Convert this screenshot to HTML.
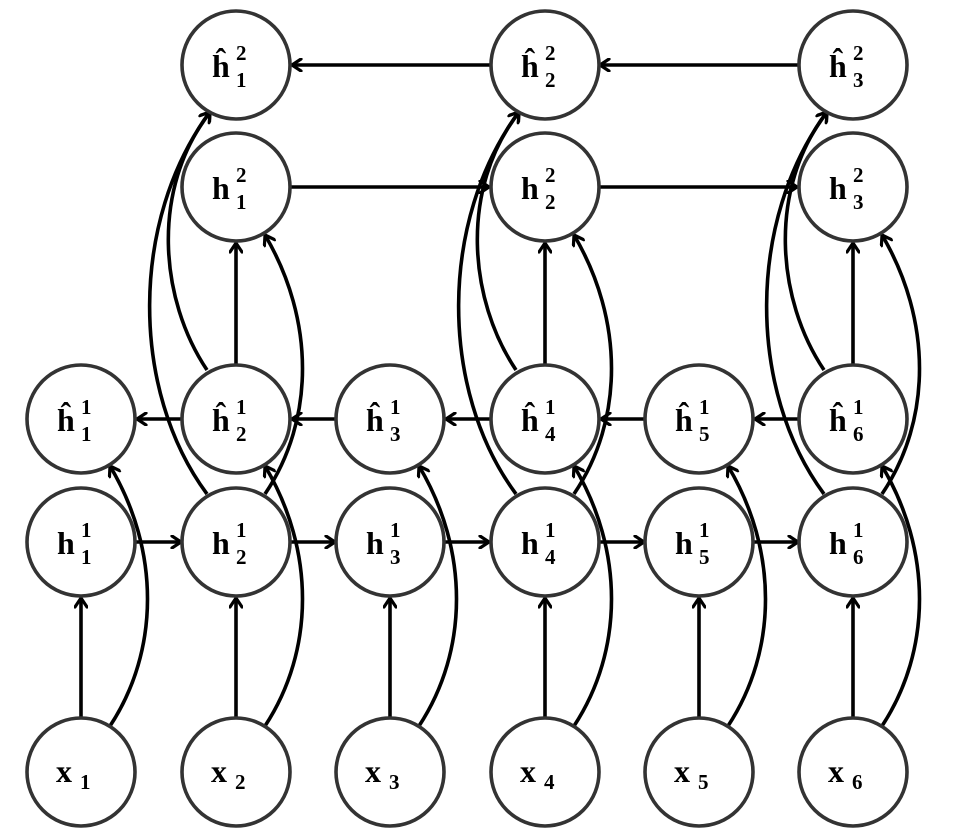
<!DOCTYPE html>
<html><head><meta charset="utf-8"><style>
html,body{margin:0;padding:0;background:#fff}
svg{display:block}
text{font-family:"Liberation Serif",serif;font-weight:bold;fill:#000}
</style></head><body>
<svg width="960" height="840" viewBox="0 0 960 840" xmlns="http://www.w3.org/2000/svg">
<defs>
<marker id="a" markerWidth="14" markerHeight="14" refX="12" refY="7" orient="auto" markerUnits="userSpaceOnUse">
<polyline points="3,1 12,7 3,13" fill="none" stroke="#000" stroke-width="3.2" stroke-linecap="round" stroke-linejoin="round"/>
</marker>
</defs>
<g fill="none" stroke="#000" stroke-width="3.6" marker-end="url(#a)">
<!-- top row leftward -->
<line x1="490" y1="65" x2="292" y2="65"/>
<line x1="798" y1="65" x2="600" y2="65"/>
<!-- h2 row rightward -->
<line x1="291" y1="187" x2="489" y2="187"/>
<line x1="600" y1="187" x2="797" y2="187"/>
<!-- hat h1 row leftward -->
<line x1="182" y1="419" x2="137" y2="419"/>
<line x1="336" y1="419" x2="292" y2="419"/>
<line x1="490" y1="419" x2="446" y2="419"/>
<line x1="645" y1="419" x2="601" y2="419"/>
<line x1="799" y1="419" x2="755" y2="419"/>
<!-- h1 row rightward -->
<line x1="136" y1="542" x2="181" y2="542"/>
<line x1="291" y1="542" x2="335" y2="542"/>
<line x1="445" y1="542" x2="489" y2="542"/>
<line x1="600" y1="542" x2="644" y2="542"/>
<line x1="754" y1="542" x2="798" y2="542"/>
<!-- x up to h1 -->
<line x1="81" y1="718" x2="81" y2="598"/>
<line x1="236" y1="718" x2="236" y2="598"/>
<line x1="390" y1="718" x2="390" y2="598"/>
<line x1="545" y1="718" x2="545" y2="598"/>
<line x1="699" y1="718" x2="699" y2="598"/>
<line x1="853" y1="718" x2="853" y2="598"/>
<!-- hat h1 up to h2 -->
<line x1="236" y1="364" x2="236" y2="243"/>
<line x1="545" y1="364" x2="545" y2="243"/>
<line x1="853" y1="364" x2="853" y2="243"/>
<!-- x top-right to hat h1 -->
<path d="M110 726 C160 650 160 550 110 466"/>
<path d="M265 726 C315 650 315 550 265 466"/>
<path d="M419 726 C469 650 469 550 419 466"/>
<path d="M574 726 C624 650 624 550 574 466"/>
<path d="M728 726 C778 650 778 550 728 466"/>
<path d="M882 726 C932 650 932 550 882 466"/>
<!-- column curves -->
<path d="M207 370 C160 300 150 190 210 112"/>
<path d="M207 494 C130 390 130 220 210 112"/>
<path d="M265 494 C315 420 315 320 265 235"/>
<path d="M516 370 C469 300 459 190 519 112"/>
<path d="M516 494 C439 390 439 220 519 112"/>
<path d="M574 494 C624 420 624 320 574 235"/>
<path d="M824 370 C777 300 767 190 827 112"/>
<path d="M824 494 C747 390 747 220 827 112"/>
<path d="M882 494 C932 420 932 320 882 235"/>
</g>
<g fill="#fff" stroke="#333" stroke-width="3.6">
<circle cx="236" cy="65" r="54"/><circle cx="545" cy="65" r="54"/><circle cx="853" cy="65" r="54"/>
<circle cx="236" cy="187" r="54"/><circle cx="545" cy="187" r="54"/><circle cx="853" cy="187" r="54"/>
<circle cx="81" cy="419" r="54"/><circle cx="236" cy="419" r="54"/><circle cx="390" cy="419" r="54"/><circle cx="545" cy="419" r="54"/><circle cx="699" cy="419" r="54"/><circle cx="853" cy="419" r="54"/>
<circle cx="81" cy="542" r="54"/><circle cx="236" cy="542" r="54"/><circle cx="390" cy="542" r="54"/><circle cx="545" cy="542" r="54"/><circle cx="699" cy="542" r="54"/><circle cx="853" cy="542" r="54"/>
<circle cx="81" cy="772" r="54"/><circle cx="236" cy="772" r="54"/><circle cx="390" cy="772" r="54"/><circle cx="545" cy="772" r="54"/><circle cx="699" cy="772" r="54"/><circle cx="853" cy="772" r="54"/>
</g>
<g font-size="32">
<!-- top row hats -->
<g id="lbls"></g>
<text x="212" y="77">ĥ</text><text x="236" y="60" font-size="21" font-weight="normal">2</text><text x="236" y="87" font-size="21" font-weight="normal">1</text>
<text x="521" y="77">ĥ</text><text x="545" y="60" font-size="21" font-weight="normal">2</text><text x="545" y="87" font-size="21" font-weight="normal">2</text>
<text x="829" y="77">ĥ</text><text x="853" y="60" font-size="21" font-weight="normal">2</text><text x="853" y="87" font-size="21" font-weight="normal">3</text>
<text x="212" y="199">h</text><text x="236" y="182" font-size="21" font-weight="normal">2</text><text x="236" y="209" font-size="21" font-weight="normal">1</text>
<text x="521" y="199">h</text><text x="545" y="182" font-size="21" font-weight="normal">2</text><text x="545" y="209" font-size="21" font-weight="normal">2</text>
<text x="829" y="199">h</text><text x="853" y="182" font-size="21" font-weight="normal">2</text><text x="853" y="209" font-size="21" font-weight="normal">3</text>
<text x="57" y="431">ĥ</text><text x="81" y="414" font-size="21" font-weight="normal">1</text><text x="81" y="441" font-size="21" font-weight="normal">1</text>
<text x="212" y="431">ĥ</text><text x="236" y="414" font-size="21" font-weight="normal">1</text><text x="236" y="441" font-size="21" font-weight="normal">2</text>
<text x="366" y="431">ĥ</text><text x="390" y="414" font-size="21" font-weight="normal">1</text><text x="390" y="441" font-size="21" font-weight="normal">3</text>
<text x="521" y="431">ĥ</text><text x="545" y="414" font-size="21" font-weight="normal">1</text><text x="545" y="441" font-size="21" font-weight="normal">4</text>
<text x="675" y="431">ĥ</text><text x="699" y="414" font-size="21" font-weight="normal">1</text><text x="699" y="441" font-size="21" font-weight="normal">5</text>
<text x="829" y="431">ĥ</text><text x="853" y="414" font-size="21" font-weight="normal">1</text><text x="853" y="441" font-size="21" font-weight="normal">6</text>
<text x="57" y="554">h</text><text x="81" y="537" font-size="21" font-weight="normal">1</text><text x="81" y="564" font-size="21" font-weight="normal">1</text>
<text x="212" y="554">h</text><text x="236" y="537" font-size="21" font-weight="normal">1</text><text x="236" y="564" font-size="21" font-weight="normal">2</text>
<text x="366" y="554">h</text><text x="390" y="537" font-size="21" font-weight="normal">1</text><text x="390" y="564" font-size="21" font-weight="normal">3</text>
<text x="521" y="554">h</text><text x="545" y="537" font-size="21" font-weight="normal">1</text><text x="545" y="564" font-size="21" font-weight="normal">4</text>
<text x="675" y="554">h</text><text x="699" y="537" font-size="21" font-weight="normal">1</text><text x="699" y="564" font-size="21" font-weight="normal">5</text>
<text x="829" y="554">h</text><text x="853" y="537" font-size="21" font-weight="normal">1</text><text x="853" y="564" font-size="21" font-weight="normal">6</text>
<text x="56" y="782">x</text><text x="80" y="789" font-size="21" font-weight="normal">1</text>
<text x="211" y="782">x</text><text x="235" y="789" font-size="21" font-weight="normal">2</text>
<text x="365" y="782">x</text><text x="389" y="789" font-size="21" font-weight="normal">3</text>
<text x="520" y="782">x</text><text x="544" y="789" font-size="21" font-weight="normal">4</text>
<text x="674" y="782">x</text><text x="698" y="789" font-size="21" font-weight="normal">5</text>
<text x="828" y="782">x</text><text x="852" y="789" font-size="21" font-weight="normal">6</text>
</g>
</svg>
</body></html>
